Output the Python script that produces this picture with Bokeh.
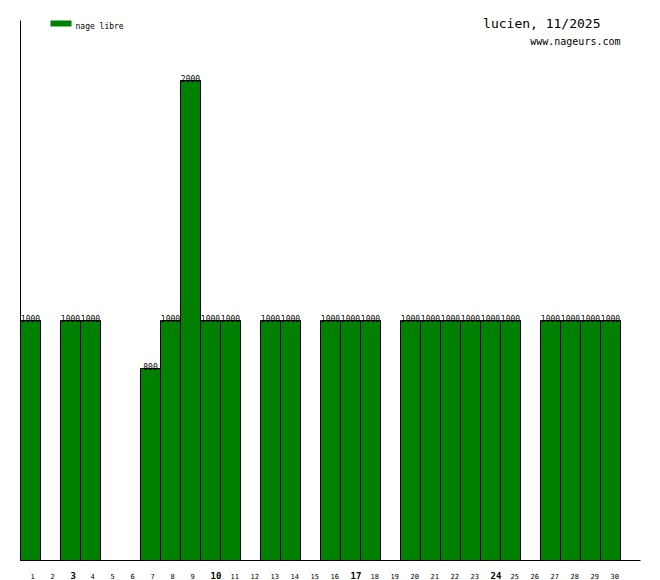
from bokeh.plotting import figure
from bokeh.models import Range1d, Label, BoxAnnotation, ColumnDataSource
from bokeh.core.properties import value
from bokeh.embed import file_html
from bokeh.resources import INLINE

# ---- data ----
days = list(range(1, 31))
distances = [1000, 0, 1000, 1000, 0, 0, 800, 1000, 2000, 1000,
             1000, 0, 1000, 1000, 0, 1000, 1000, 1000, 0, 1000,
             1000, 1000, 1000, 1000, 1000, 0, 1000, 1000, 1000, 1000]
mondays = [3, 10, 17, 24]
series_name = "nage libre"
title_text = "lucien, 11/2025"
site_text = "www.nageurs.com"
y_max = 2250

FONT = value("DejaVu Sans Mono")
GREEN = "#008000"

# pixel geometry of the plotting area (picture coordinates)
PX_L, PX_R = 20, 640      # x extent of the axis area
PY_T, PY_B = 20, 560      # y extent of the axis area
FIG_L, FIG_T, FIG_W, FIG_H = 0, 0, 652, 580

n_slots = len(days) + 1
xs = (PX_R - PX_L) / n_slots          # px per day
ys = (PY_B - PY_T) / y_max            # px per unit


def dx(px):
    return (px - PX_L) / xs + 0.5


def dy(py):
    return (PY_B - py) / ys


p = figure(width=FIG_W, height=FIG_H, output_backend="svg", toolbar_location=None,
           x_range=Range1d(dx(FIG_L), dx(FIG_L + FIG_W)),
           y_range=Range1d(dy(FIG_T + FIG_H), dy(FIG_T)),
           min_border=0, x_axis_type=None, y_axis_type=None)
p.outline_line_color = None
p.grid.visible = False
p.background_fill_color = "white"
p.border_fill_color = "white"

# bars
src = ColumnDataSource(dict(x=days, top=distances))
p.vbar(x="x", top="top", width=1, bottom=0, source=src,
       fill_color=GREEN, line_color="black", line_width=1)

# value labels
lab_x = [d for d, v in zip(days, distances) if v > 0]
lab_y = [v for v in distances if v > 0]
p.text(x=lab_x, y=lab_y, text=[str(v) for v in lab_y], text_font=FONT,
       text_font_size="8px", text_align="center", text_baseline="alphabetic",
       y_offset=-2, text_color="black")

# axes lines
p.segment(x0=[0.5, 0.5], y0=[0, 0], x1=[n_slots + 0.5, 0.5], y1=[0, y_max],
          line_color="black", line_width=1)

# day labels
normal = [d for d in days if d not in mondays]
p.text(x=normal, y=[dy(575.5)] * len(normal), text=[str(d) for d in normal],
       text_font=FONT, text_font_size="7px", text_align="left",
       text_baseline="alphabetic", text_color="black")
p.text(x=mondays, y=[dy(575)] * len(mondays), text=[str(d) for d in mondays],
       text_font=FONT, text_font_size="9px", text_font_style="bold",
       text_align="left", text_baseline="alphabetic", text_color="black")

# legend swatch + label
p.add_layout(BoxAnnotation(left=dx(50), right=dx(71), top=dy(20), bottom=dy(26),
                           fill_color=GREEN, fill_alpha=1, line_color=None))
p.add_layout(Label(x=dx(75), y=dy(25.5), text=series_name, text_font="DejaVu Sans Mono",
                   text_font_size="8px", text_baseline="alphabetic", text_color="black"))

# title + site
p.add_layout(Label(x=dx(600), y=dy(23), text=title_text, text_font="DejaVu Sans Mono",
                   text_font_size="13px", text_align="right", text_baseline="alphabetic",
                   text_color="black"))
p.add_layout(Label(x=dx(620), y=dy(40.5), text=site_text, text_font="DejaVu Sans Mono",
                   text_font_size="10px", text_align="right", text_baseline="alphabetic",
                   text_color="black"))

open("out.html", "w").write(file_html(p, INLINE))
